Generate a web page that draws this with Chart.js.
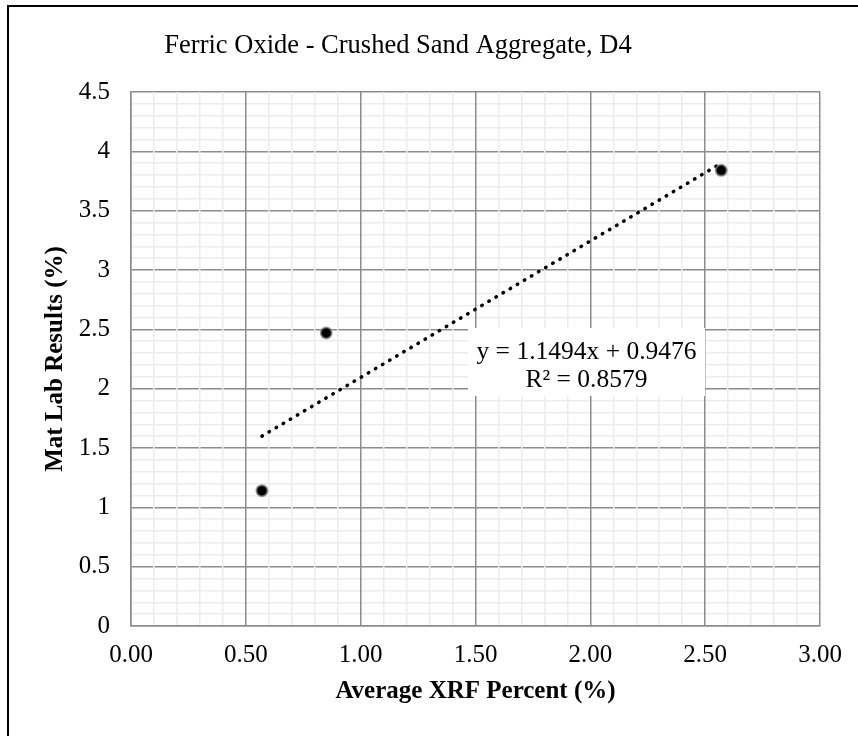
<!DOCTYPE html>
<html>
<head>
<meta charset="utf-8">
<script src="https://cdn.jsdelivr.net/npm/chart.js@4"></script>
<style>
  body { margin: 0; background: #fff; }
  #wrap { position: relative; width: 858px; height: 736px; }
</style>
</head>
<body>
<div id="wrap"><canvas id="myChart" width="858" height="736"></canvas></div>
<script>
// datos
const xrfValores = [0.57, 0.85, 2.57];
const labValores = [1.14, 2.47, 3.84];
const tendenciaX = [0.57, 2.57];
const tendenciaY = [1.60, 3.90];
const ecuacion = ["y = 1.1494x + 0.9476", "R² = 0.8579"];
const titulo = "Ferric Oxide - Crushed Sand Aggregate, D4";
const xTickLabels = ["0.00", "0.50", "1.00", "1.50", "2.00", "2.50", "3.00"];
const yTickLabels = ["0", "0.5", "1", "1.5", "2", "2.5", "3", "3.5", "4", "4.5"];

const fuente = "'Liberation Serif', 'Times New Roman', serif";
const ctx = document.getElementById('myChart');

function esMayor(v) {
  return Math.abs(v * 2 - Math.round(v * 2)) < 1e-6;
}

const marco = {
  id: 'marco',
  beforeDraw(chart) {
    const c = chart.ctx;
    c.save();
    c.fillStyle = '#fff';
    c.fillRect(0, 0, chart.width, chart.height);
    c.strokeStyle = '#000';
    c.lineWidth = 2;
    c.beginPath();
    c.moveTo(8, chart.height);
    c.lineTo(8, 6);
    c.lineTo(chart.width, 6);
    c.stroke();
    c.restore();
  },
  afterDatasetsDraw(chart) {
    const c = chart.ctx;
    c.save();
    // titulo
    c.fillStyle = '#000';
    c.font = "26.5px " + fuente;
    c.textAlign = 'center';
    c.textBaseline = 'alphabetic';
    c.fillText(titulo, 398, 53);
    // cuadro de la ecuacion
    c.fillStyle = '#fff';
    c.fillRect(468, 328, 237, 68);
    c.fillStyle = '#000';
    c.font = "25.5px " + fuente;
    c.fillText(ecuacion[0], 586.5, 359);
    c.fillText(ecuacion[1], 586.5, 387);
    c.restore();
  }
};

const chart = new Chart(ctx, {
  type: 'scatter',
  data: {
    datasets: [
      {
        label: 'Puntos',
        data: xrfValores.map((x, i) => ({ x: x, y: labValores[i] })),
        pointRadius: 5.5,
        pointHoverRadius: 5.5,
        backgroundColor: '#000',
        borderColor: 'rgba(120,120,120,0.7)',
        borderWidth: 2,
      },
      {
        label: 'Tendencia',
        data: tendenciaX.map((x, i) => ({ x: x, y: tendenciaY[i] })),
        showLine: true,
        borderColor: '#000',
        borderWidth: 3.5,
        borderDash: [0.5, 7.75],
        borderCapStyle: 'round',
        pointRadius: 0,
        fill: false,
      },
    ],
  },
  options: {
    responsive: false,
    animation: false,
    layout: { padding: { left: 20, right: 38, top: 92, bottom: 20 } },
    plugins: {
      legend: { display: false },
      tooltip: { enabled: false },
      title: { display: false },
    },
    scales: {
      x: {
        type: 'linear',
        min: 0,
        max: 3,
        afterFit: (scale) => { scale.height = 90; },
        ticks: {
          stepSize: 0.1,
          maxTicksLimit: 100,
          autoSkip: false,
          maxRotation: 0,
          minRotation: 0,
          padding: 14.6,
          color: '#000',
          font: { family: fuente, size: 25 },
          callback: (v) => esMayor(v) ? xTickLabels[Math.round(v * 2)] : '',
        },
        grid: {
          z: -1,
          drawTicks: false,
          lineWidth: 1.5,
          color: (c) => esMayor(c.tick.value) ? '#8c8c8c' : '#ececec',
        },
        border: { color: '#8c8c8c', width: 1.5 },
        title: {
          display: true,
          text: 'Average XRF Percent (%)',
          color: '#000',
          font: { family: fuente, size: 25, weight: 'bold' },
          padding: { top: 0, bottom: 9.4 },
        },
      },
      y: {
        type: 'linear',
        min: 0,
        max: 4.5,
        afterFit: (scale) => { scale.width = 111; },
        ticks: {
          stepSize: 0.1,
          maxTicksLimit: 100,
          autoSkip: false,
          padding: 21,
          color: '#000',
          font: { family: fuente, size: 25 },
          callback: (v) => esMayor(v) ? yTickLabels[Math.round(v * 2)] : '',
        },
        grid: {
          z: -2,
          drawTicks: false,
          lineWidth: 1.5,
          color: (c) => esMayor(c.tick.value) ? '#8c8c8c' : '#ececec',
        },
        border: { color: '#8c8c8c', width: 1.5 },
        title: {
          display: true,
          text: 'Mat Lab Results (%)',
          color: '#000',
          font: { family: fuente, size: 25, weight: 'bold' },
          padding: { top: 21, bottom: 0 },
        },
      },
    },
  },
  plugins: [marco],
});
</script>
</body>
</html>
